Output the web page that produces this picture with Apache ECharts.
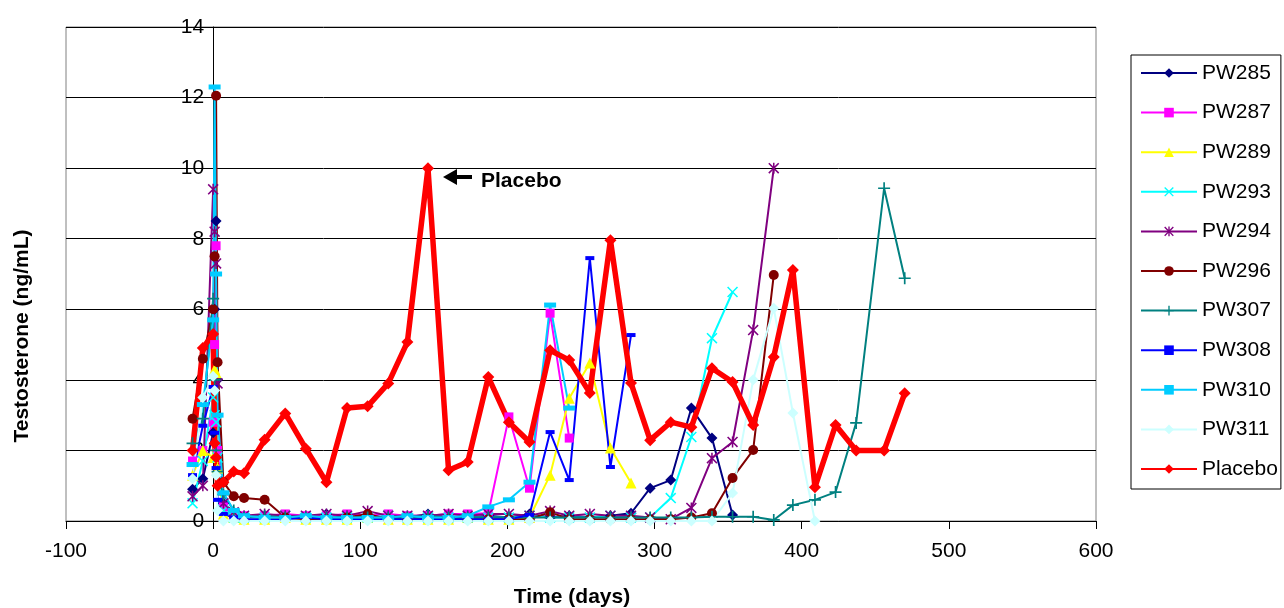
<!DOCTYPE html>
<html>
<head>
<meta charset="utf-8">
<script src="https://cdn.jsdelivr.net/npm/echarts@6/dist/echarts.min.js"></script>
<style>
  html, body { margin: 0; padding: 0; background: #fff; }
  #chart { width: 1284px; height: 608px; }
</style>
</head>
<body>
<div id="chart"></div>
<script>
// sampling days shared by all subjects (series stop when their array ends)
const days = [-14, -7, 0, 1, 2, 3, 7, 14, 21, 35, 49, 63, 77, 91, 105, 119, 132, 146, 160, 173,
  187, 201, 215, 229, 242, 256, 270, 284, 297, 311, 325, 339, 353, 367, 381, 394, 409, 423, 437, 456, 470];

const pw285 = [0.9, 1.2, 2.5, 6.0, 8.5, 4.0, 0.5, 0.2, 0.1, 0.15, 0.1, 0.1, 0.2, 0.1, 0.15, 0.1, 0.1, 0.2, 0.1, 0.1,
  0.15, 0.1, 0.2, 0.1, 0.15, 0.1, 0.15, 0.22, 0.93, 1.16, 3.2, 2.35, 0.17];
const pw287 = [1.7, 2.0, 2.8, 5.0, 7.8, 2.0, 0.4, 0.2, 0.15, 0.15, 0.2, 0.15, 0.15, 0.2, 0.15, 0.2, 0.15, 0.15, 0.2, 0.2,
  0.22, 2.95, 0.93, 5.89, 2.35];
const pw289 = [1.3, 2.0, 1.8, 4.3, 4.2, 1.5, 0.2, 0.1, 0.05, 0.05, 0.1, 0.05, 0.05, 0.05, 0.1, 0.05, 0.05, 0.05, 0.05, 0.1,
  0.05, 0.05, 0.1, 1.3, 3.48, 4.48, 2.07, 1.08];
const pw293 = [0.5, 1.7, 3.5, 3.0, 2.8, 1.8, 0.3, 0.1, 0.1, 0.1, 0.15, 0.1, 0.1, 0.1, 0.1, 0.15, 0.1, 0.1, 0.1, 0.1,
  0.1, 0.1, 0.15, 0.1, 0.1, 0.1, 0.15, 0.1, 0.1, 0.65, 2.38, 5.18, 6.49];
const pw294 = [0.7, 1.0, 9.4, 8.2, 7.3, 3.9, 0.5, 0.25, 0.15, 0.2, 0.15, 0.15, 0.2, 0.15, 0.28, 0.15, 0.15, 0.15, 0.2, 0.15,
  0.2, 0.2, 0.15, 0.28, 0.15, 0.2, 0.15, 0.15, 0.1, 0.05, 0.37, 1.78, 2.24, 5.41, 10.0];
const pw296 = [2.9, 4.6, 6.0, 7.5, 12.05, 4.5, 1.1, 0.7, 0.65, 0.6, 0.1, 0.05, 0.05, 0.1, 0.2, 0.05, 0.05, 0.05, 0.05, 0.05,
  0.05, 0.05, 0.05, 0.25, 0.05, 0.05, 0.05, 0.05, 0.05, 0.05, 0.1, 0.22, 1.22, 2.01, 6.97];
const pw307 = [2.2, 2.9, 6.3, 4.0, 2.0, 1.4, 0.75, 0.3, 0.1, 0.15, 0.1, 0.1, 0.1, 0.1, 0.1, 0.1, 0.1, 0.15, 0.1, 0.1,
  0.1, 0.1, 0.1, 0.1, 0.1, 0.1, 0.1, 0.1, 0.1, 0.1, 0.1, 0.12, 0.12, 0.12, 0.03, 0.45, 0.6, 0.82, 2.78, 9.43, 6.88];
const pw308 = [1.3, 2.7, 3.8, 2.5, 1.5, 0.6, 0.2, 0.1, 0.05, 0.05, 0.05, 0.1, 0.05, 0.05, 0.05, 0.05, 0.05, 0.05, 0.05, 0.05,
  0.05, 0.05, 0.17, 2.52, 1.16, 7.45, 1.53, 5.27];
const pw310 = [1.6, 3.3, 5.7, 12.3, 7.0, 3.0, 0.8, 0.3, 0.15, 0.1, 0.1, 0.15, 0.1, 0.1, 0.1, 0.1, 0.15, 0.1, 0.1, 0.15,
  0.4, 0.6, 1.1, 6.12, 3.2];
const pw311 = [1.2, 3.5, 4.1, 3.7, 1.3, 0.3, 0.0, 0.0, 0.0, 0.0, 0.0, 0.0, 0.0, 0.0, 0.0, 0.0, 0.0, 0.0, 0.0, 0.0,
  0.0, 0.0, 0.0, 0.0, 0.0, 0.0, 0.0, 0.0, 0.0, 0.0, 0.0, 0.0, 0.79, 4.0, 6.03, 3.06, 0.0];
const placebo = [2.0, 4.9, 5.3, 2.2, 1.8, 1.0, 1.1, 1.4, 1.35, 2.3, 3.05, 2.05, 1.1, 3.2, 3.25, 3.9, 5.07, 10.0, 1.44, 1.67,
  4.08, 2.8, 2.24, 4.84, 4.56, 3.63, 7.96, 3.91, 2.29, 2.8, 2.66, 4.33, 3.94, 2.72, 4.65, 7.11, 0.96, 2.72, 2.0, 2.0, 3.62];

const xTicks = [-100, 0, 100, 200, 300, 400, 500, 600];
const yTicks = [0, 2, 4, 6, 8, 10, 12, 14];

// excel style markers
const xMark = 'path://M1,0 L5,4 L9,0 L10,1 L6,5 L10,9 L9,10 L5,6 L1,10 L0,9 L4,5 L0,1 Z';
const starMark = 'path://M1,0 L5,4 L9,0 L10,1 L6,5 L10,9 L9,10 L5,6 L1,10 L0,9 L4,5 L0,1 Z M4.3,0 L5.7,0 L5.7,10 L4.3,10 Z';
const plusMark = 'path://M4.3,0 L5.7,0 L5.7,4.3 L10,4.3 L10,5.7 L5.7,5.7 L5.7,10 L4.3,10 L4.3,5.7 L0,5.7 L0,4.3 L4.3,4.3 Z';

const gridLeft = 66, gridRight = 188;
// y axis sits on x = 0, so shift it in from the grid's left edge
const yOffset = -(1284 - gridLeft - gridRight) * (0 - xTicks[0]) / (xTicks[xTicks.length - 1] - xTicks[0]);

function mk(name, vals, color, symbol, size, width) {
  return {
    name: name,
    type: 'line',
    data: vals.map((v, i) => [days[i], v]),
    symbol: symbol,
    symbolSize: size,
    showAllSymbol: true,
    itemStyle: { color: color },
    lineStyle: { color: color, width: width || 2 },
    emphasis: { disabled: true }
  };
}

const chart = echarts.init(document.getElementById('chart'));
const option = {
  animation: false,
  textStyle: { fontFamily: 'Liberation Sans, Arial, sans-serif' },
  grid: { left: gridLeft, right: gridRight, top: 27, bottom: 87, show: true, borderColor: '#808080', borderWidth: 1 },
  legend: {
    orient: 'vertical',
    left: 1131,
    top: 55,
    itemWidth: 56,
    itemHeight: 12,
    itemGap: 15.6,
    padding: [6, 3, 8, 9],
    borderColor: '#000',
    borderWidth: 1,
    textStyle: { fontSize: 21, color: '#000', lineHeight: 24 },
    data: ['PW285', 'PW287', 'PW289', 'PW293', 'PW294', 'PW296', 'PW307', 'PW308', 'PW310', 'PW311', 'Placebo']
  },
  xAxis: {
    type: 'value',
    min: xTicks[0],
    max: xTicks[xTicks.length - 1],
    interval: 100,
    axisLine: { lineStyle: { color: '#000', width: 1 } },
    axisTick: { length: 8, lineStyle: { color: '#000' } },
    axisLabel: { fontSize: 21, color: '#000', margin: 20 },
    splitLine: { show: false }
  },
  yAxis: {
    type: 'value',
    min: yTicks[0],
    max: yTicks[yTicks.length - 1],
    interval: 2,
    offset: yOffset,
    axisLine: { show: true, onZero: false, lineStyle: { color: '#000', width: 1 } },
    axisTick: { show: true, length: 5, lineStyle: { color: '#000' } },
    axisLabel: { fontSize: 21, color: '#000', margin: 9 },
    splitLine: { lineStyle: { color: '#000', width: 1 } }
  },
  graphic: [
    {
      type: 'text', x: 22, y: 336, rotation: Math.PI / 2,
      style: { text: 'Testosterone (ng/mL)', font: 'bold 21px Liberation Sans, Arial', fill: '#000',
        textAlign: 'center', textVerticalAlign: 'middle' }
    },
    {
      type: 'text', x: 572, y: 597,
      style: { text: 'Time (days)', font: 'bold 21px Liberation Sans, Arial', fill: '#000',
        textAlign: 'center', textVerticalAlign: 'middle' }
    },
    {
      type: 'polygon',
      shape: { points: [[443, 177], [457, 169], [457, 175], [472, 175], [472, 179], [457, 179], [457, 185]] },
      style: { fill: '#000' }
    },
    {
      type: 'text', x: 481, y: 181,
      style: { text: 'Placebo', font: 'bold 21px Liberation Sans, Arial', fill: '#000',
        textAlign: 'left', textVerticalAlign: 'middle' }
    }
  ],
  series: [
    mk('PW285', pw285, '#000080', 'diamond', 11),
    mk('PW287', pw287, '#FF00FF', 'rect', 9),
    mk('PW289', pw289, '#FFFF00', 'triangle', 11),
    mk('PW293', pw293, '#00FFFF', xMark, 11),
    mk('PW294', pw294, '#800080', starMark, 11),
    mk('PW296', pw296, '#800000', 'circle', 10),
    mk('PW307', pw307, '#008080', plusMark, 12),
    mk('PW308', pw308, '#0000FF', 'rect', [9, 4]),
    mk('PW310', pw310, '#00CCFF', 'rect', [12, 5]),
    mk('PW311', pw311, '#CCFFFF', 'diamond', 11),
    mk('Placebo', placebo, '#FF0000', 'diamond', 12, 5.5)
  ]
};
chart.setOption(option);
</script>
</body>
</html>
